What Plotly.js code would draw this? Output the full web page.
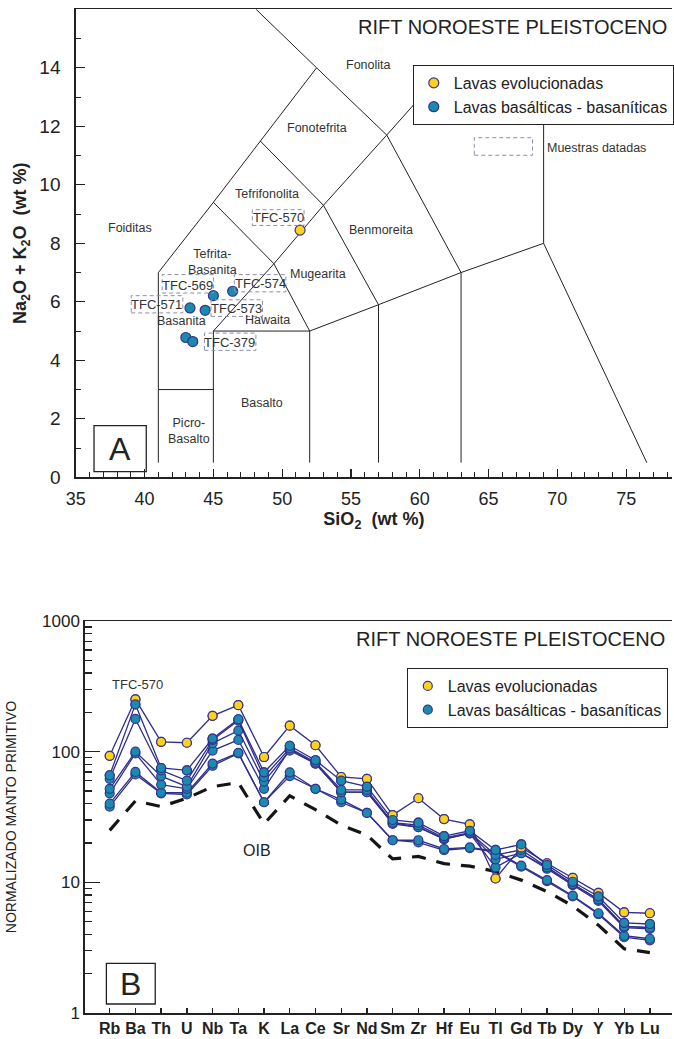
<!DOCTYPE html>
<html>
<head>
<meta charset="utf-8">
<script src="https://cdn.plot.ly/plotly-3.0.1.min.js"></script>
<style>html,body{margin:0;padding:0;background:#fff;}#chart{width:674px;height:1039px;}</style>
</head>
<body>
<div id="chart"></div>
<script>
// ---------- Panel A data (TAS) ----------
const evolSiO2 = [51.3];
const evolAlk = [8.45];
const basSiO2 = [45.0, 46.4, 43.3, 44.4, 43.0, 43.5];
const basAlk = [6.21, 6.36, 5.79, 5.71, 4.78, 4.64];

// TAS field boundaries (segments separated by null)
const tasX = [41,41,45,48.4,52.5,48.1,null, 41,45,null, 45,45,49.4,53,57.6,61,null,
  45,49.4,52,null, 48.4,53,57,63,69,76.5,null, 45,52,57,null, 52,52,null, 57,57,null,
  63,63,null, 52.5,57.6,63,null, 69,69];
const tasY = [0.5,7,9.4,11.5,14,16,null, 3,3,null, 0.5,5,7.3,9.3,11.7,13.5,null,
  9.4,7.3,5,null, 11.5,9.3,5.9,7,8,0.5,null, 5,5,5.9,null, 0.5,5,null, 0.5,5.9,null,
  0.5,7,null, 14,11.7,7,null, 8,12.5];

// field names
const fieldNames = ['Fonolita','Fonotefrita','Tefrifonolita','Foiditas','Tefrita-<br>Basanita','Mugearita',
  'Hawaita','Basanita','Picro-<br>Basalto','Basalto','Benmoreita'];
const fieldX = [56.3, 52.5, 48.9, 38.96, 44.9, 52.6, 48.9, 42.7, 43.2, 48.5, 57.2];
const fieldY = [14.1, 11.95, 9.67, 8.51, 7.36, 6.95, 5.39, 5.33, 1.58, 2.53, 8.47];

// dated sample labels
const sampleNames = ['TFC-570','TFC-569','TFC-574','TFC-571','TFC-573','TFC-379'];
const sampleLabX = [49.7, 43.15, 48.4, 40.9, 46.7, 46.2];
const sampleLabY = [8.88, 6.55, 6.64, 5.9, 5.76, 4.62];
const boxX0 = [47.83, 41.28, 46.52, 39.03, 44.83, 44.35];
const boxX1 = [51.59, 45.02, 50.27, 42.78, 48.57, 48.09];
const boxY0 = [8.61, 6.30, 6.34, 5.62, 5.50, 4.34];
const boxY1 = [9.15, 6.93, 6.93, 6.21, 6.07, 4.93];

// ---------- Panel B data (spider diagram) ----------
const elements = ['Rb','Ba','Th','U','Nb','Ta','K','La','Ce','Sr','Nd','Sm','Zr','Hf','Eu','Tl','Gd','Tb','Dy','Y','Yb','Lu'];
const tfc570 = [93,251,119,117,188,227,91,158,112,64,62,32.7,44,30.5,27.8,10.7,18.5,14.0,10.8,8.3,5.9,5.8];
const bas1 = [66,230,75,72,126,177,69.5,111,86,60,54,30,28.6,22.6,24.8,17.7,19.5,13.6,10.1,7.8,4.9,4.8];
const bas2 = [62,178,72,60,123,173,64,106,83,51,51,28.6,27.4,21.9,24.0,16.2,17.7,13.0,9.7,7.4,4.6,4.5];
const bas3 = [52,100,65,54,116,145,59,102,81,49,49,28.6,26.4,21.4,23.7,15.0,16.7,13.0,9.7,7.4,4.6,4.5];
const bas4 = [48,97,56,52,102,123,52,104,81,49,49,28.0,26.4,21.4,23.7,13.0,16.7,12.7,9.5,7.2,4.5,4.4];
const bas5 = [40,70,48.5,48.5,81,98,41,69.5,52,43,34,21,21,18.0,18.5,17.3,13.4,10.4,7.9,5.8,3.9,3.7];
const bas6 = [38,67,48,47,78,97,41,65,52,41,34,21,20.2,17.6,18.3,17.0,13.2,10.2,7.8,5.7,3.8,3.6];
const oib = [25,42,38,44,54,58,28,46,36,27.4,23,15.1,15.8,13.9,13.3,12.1,10.4,8.5,6.6,4.7,3.1,2.9];
const decadeTicks = [1,10,100,1000];
const decadeLabels = ['1','10','100','1000'];

const legendNames = ['Lavas evolucionadas','Lavas basálticas - basaníticas'];
const mainTitle = 'RIFT NOROESTE PLEISTOCENO';

// ---------- styling ----------
const W = 674, H = 1039;
const px = v => v / W;
const py = v => 1 - v / H;
const YEL = '#FFD21A', BLU = '#1A8AAE', EDGE = '#34348F', LINE = '#2E2E8E';
const FONT = 'Liberation Sans, Arial, sans-serif';

const traces = [];
traces.push({x: tasX, y: tasY, xaxis: 'x', yaxis: 'y', mode: 'lines', line: {color: '#222', width: 1},
  showlegend: false, hoverinfo: 'skip'});
traces.push({x: evolSiO2, y: evolAlk, xaxis: 'x', yaxis: 'y', mode: 'markers', name: legendNames[0],
  marker: {size: 10, color: YEL, line: {color: EDGE, width: 1.2}}, legend: 'legend'});
traces.push({x: basSiO2, y: basAlk, xaxis: 'x', yaxis: 'y', mode: 'markers', name: legendNames[1],
  marker: {size: 10, color: BLU, line: {color: EDGE, width: 1.2}}, legend: 'legend'});

// spider: OIB
traces.push({x: elements, y: oib, xaxis: 'x2', yaxis: 'y2', mode: 'lines', showlegend: false,
  line: {color: '#151515', width: 3.2, dash: '14px,11px'}, hoverinfo: 'skip'});
const basSeries = [bas6, bas5, bas4, bas3, bas2, bas1];
basSeries.forEach((s, i) => {
  traces.push({x: elements, y: s, xaxis: 'x2', yaxis: 'y2', mode: 'lines+markers', showlegend: false,
    line: {color: LINE, width: 1.3}, marker: {size: 9, color: BLU, line: {color: EDGE, width: 1.2}}});
});
traces.push({x: elements, y: tfc570, xaxis: 'x2', yaxis: 'y2', mode: 'lines+markers', showlegend: false,
  line: {color: LINE, width: 1.3}, marker: {size: 9, color: YEL, line: {color: EDGE, width: 1.2}}});
// legend entries for panel B (marker only, same series)
traces.push({x: elements, y: tfc570, xaxis: 'x2', yaxis: 'y2', mode: 'markers', name: legendNames[0],
  marker: {size: 9, color: YEL, line: {color: EDGE, width: 1.2}}, legend: 'legend2'});
traces.push({x: elements, y: bas1, xaxis: 'x2', yaxis: 'y2', mode: 'markers', name: legendNames[1],
  marker: {size: 9, color: BLU, line: {color: EDGE, width: 1.2}}, legend: 'legend2'});

const annotations = [];
const shapes = [];
const C = {xanchor: 'center', yanchor: 'middle', showarrow: false};
fieldNames.forEach((t, i) => annotations.push(Object.assign({x: fieldX[i], y: fieldY[i], xref: 'x', yref: 'y', text: t,
  font: {family: FONT, size: 12.5, color: '#333'}}, C)));
sampleNames.forEach((t, i) => {
  annotations.push(Object.assign({x: sampleLabX[i], y: sampleLabY[i], xref: 'x', yref: 'y', text: t,
    font: {family: FONT, size: 13, color: '#333'}}, C));
  shapes.push({type: 'rect', xref: 'x', yref: 'y', x0: boxX0[i], x1: boxX1[i], y0: boxY0[i], y1: boxY1[i],
    line: {color: '#8c8cae', width: 1, dash: '4px,3px'}});
});
// "Muestras datadas" key
shapes.push({type: 'rect', xref: 'x', yref: 'y', x0: 63.96, x1: 68.19, y0: 11.01, y1: 11.61,
  line: {color: '#8c8cae', width: 1, dash: '4px,3px'}});
annotations.push({x: 69.1, y: 11.27, xref: 'x', yref: 'y', xanchor: 'left', yanchor: 'middle', text: 'Muestras datadas',
  showarrow: false, font: {family: FONT, size: 12.5, color: '#333'}});
// titles
annotations.push({x: px(671), y: py(27), xref: 'paper', yref: 'paper', xanchor: 'right', yanchor: 'middle', text: mainTitle,
  showarrow: false, font: {family: FONT, size: 20, color: '#222'}});
annotations.push({x: px(669), y: py(639), xref: 'paper', yref: 'paper', xanchor: 'right', yanchor: 'middle', text: mainTitle,
  showarrow: false, font: {family: FONT, size: 20, color: '#222'}});
// panel letters
shapes.push({type: 'rect', xref: 'paper', yref: 'paper', x0: px(94.3), x1: px(146.7), y0: py(471.7), y1: py(425.7),
  line: {color: '#222', width: 1.3}});
annotations.push(Object.assign({x: px(120.5), y: py(449), xref: 'paper', yref: 'paper', text: 'A',
  font: {family: FONT, size: 32, color: '#222'}}, C));
shapes.push({type: 'rect', xref: 'paper', yref: 'paper', x0: px(106.7), x1: px(155.7), y0: py(1004), y1: py(963.3),
  line: {color: '#222', width: 1.3}});
annotations.push(Object.assign({x: px(131.2), y: py(984), xref: 'paper', yref: 'paper', text: 'B',
  font: {family: FONT, size: 32, color: '#222'}}, C));
annotations.push(Object.assign({x: px(138), y: py(684), xref: 'paper', yref: 'paper', text: 'TFC-570',
  font: {family: FONT, size: 13, color: '#333'}}, C));
annotations.push(Object.assign({x: px(258), y: py(850), xref: 'paper', yref: 'paper', text: 'OIB',
  font: {family: FONT, size: 16, color: '#222'}}, C));

const axLine = {showline: true, linecolor: '#222', linewidth: 1.5, showgrid: false, zeroline: false};
const layout = {
  width: W, height: H, margin: {l: 0, r: 0, t: 0, b: 0}, paper_bgcolor: '#fff', plot_bgcolor: '#fff',
  font: {family: FONT, color: '#222'},
  xaxis: Object.assign({}, axLine, {domain: [px(76), 1], range: [35, 78.33], mirror: true, anchor: 'y',
    tick0: 35, dtick: 5, ticks: 'inside', ticklen: 8, tickwidth: 1.2, tickcolor: '#222',
    minor: {dtick: 1, ticks: 'inside', ticklen: 5, tickwidth: 1, tickcolor: '#222'},
    tickfont: {size: 18, family: FONT, color: '#222'}, ticklabelstandoff: 5,
    title: {text: '<b>SiO<sub>2</sub>  (wt %)</b>', font: {size: 18, family: FONT, color: '#222'}, standoff: 4}}),
  yaxis: Object.assign({}, axLine, {domain: [py(477.3), py(9.3)], range: [0, 16], anchor: 'x',
    tick0: 0, dtick: 2, ticks: 'inside', ticklen: 9, tickwidth: 1.2, tickcolor: '#222',
    minor: {dtick: 1, ticks: 'inside', ticklen: 5, tickwidth: 1, tickcolor: '#222'},
    tickfont: {size: 19, family: FONT, color: '#222'}, ticklabelstandoff: 10,
    title: {text: '<b>Na<sub>2</sub>O + K<sub>2</sub>O  (wt %)</b>', font: {size: 18, family: FONT, color: '#222'}, standoff: 8}}),
  xaxis2: {domain: [px(85), 1], range: [-0.97, 21.86], mirror: true, anchor: 'y2', showline: true,
    showgrid: false, zeroline: false,
    linecolor: '#222', linewidth: 1.5, type: 'category', ticks: 'inside', ticklen: 5, tickwidth: 1.3, tickcolor: '#222',
    tickfont: {size: 16, family: FONT, color: '#222', weight: 'bold'}},
  yaxis2: {domain: [py(1013), py(621)], type: 'log', range: [0, 3], anchor: 'x2', showline: true,
    showgrid: false, zeroline: false,
    linecolor: '#222', linewidth: 1.5,
    tickvals: decadeTicks, ticktext: decadeLabels, ticks: 'inside', ticklen: 15, tickwidth: 1.4, tickcolor: '#222',
    minor: {dtick: 'D1', ticks: 'inside', ticklen: 7, tickwidth: 1.2, tickcolor: '#222', showgrid: false},
    tickfont: {size: 17, family: FONT, color: '#222'},
    title: {text: 'NORMALIZADO MANTO PRIMITIVO', font: {size: 14, family: FONT, color: '#222'}, standoff: 22}},
  legend: {x: px(414), y: py(65), xanchor: 'left', yanchor: 'top', bgcolor: '#fff', bordercolor: '#222',
    borderwidth: 1, font: {size: 16, family: FONT, color: '#222'}, itemsizing: 'trace'},
  legend2: {x: px(408), y: py(668), xanchor: 'left', yanchor: 'top', bgcolor: '#fff', bordercolor: '#222',
    borderwidth: 1, font: {size: 16, family: FONT, color: '#222'}, itemsizing: 'trace'},
  annotations: annotations, shapes: shapes
};
Plotly.newPlot('chart', traces, layout, {displayModeBar: false, staticPlot: true});
</script>
</body>
</html>
